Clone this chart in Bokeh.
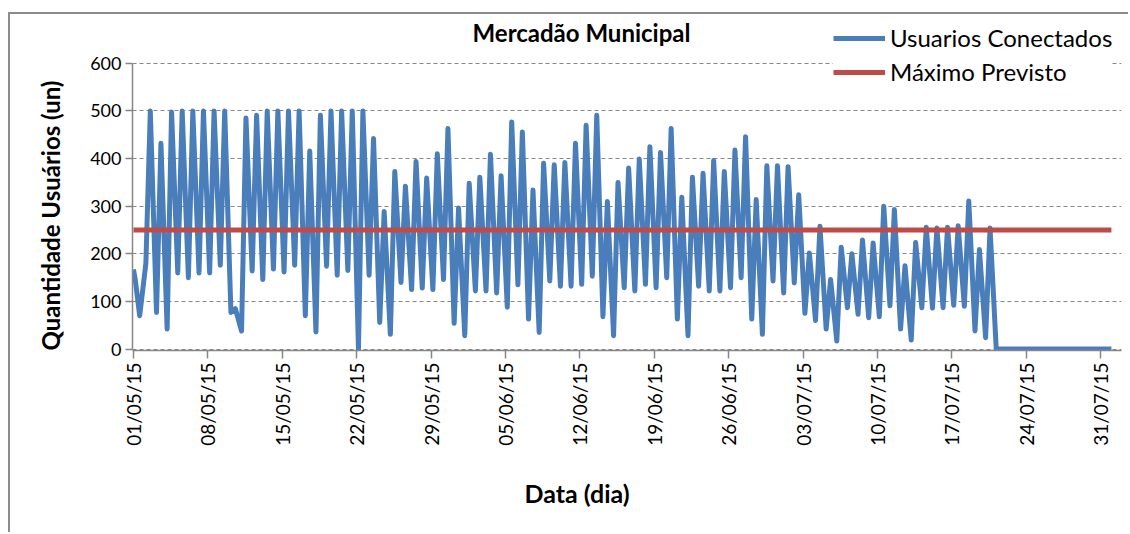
import pandas as pd
from math import pi
from bokeh.plotting import figure
from bokeh.models import (Range1d, FixedTicker, DatetimeTickFormatter, Label,
                          Legend, LegendItem, ColumnDataSource, Title)
from bokeh.embed import file_html
from bokeh.resources import INLINE

# ---------------- data ----------------
titulo = "Mercadão Municipal"
serie_usuarios = "Usuarios Conectados"
serie_maximo = "Máximo Previsto"
eixo_y = "Quantidade Usuários (un)"
eixo_x = "Data (dia)"

data_inicio = "2015-05-01"
data_fim = "2015-08-01"
hora_leitura_a = 4    # early-morning reading (h)
hora_leitura_b = 14   # afternoon reading (h)

valor_inicial = 167
valor_final = 0

# one value per day, 01/05/15 ... 31/07/15
leitura_a = [146, 180, 77, 42, 160, 150, 160, 160, 176, 77,
             38, 164, 146, 168, 162, 176, 70, 36, 174, 155,
             165, 0, 155, 56, 31, 140, 125, 128, 125, 146,
             54, 28, 122, 122, 118, 88, 135, 63, 35, 143,
             132, 132, 136, 153, 68, 28, 129, 122, 136, 129,
             150, 63, 28, 132, 122, 122, 129, 150, 63, 31,
             143, 118, 139, 75, 60, 42, 17, 87, 73, 66,
             68, 91, 42, 19, 87, 86, 87, 92, 90, 38,
             24, 0, 0, 0, 0, 0, 0, 0, 0, 0,
             0, 0]
leitura_b = [70, 500, 432, 498, 500, 500, 500, 500, 500, 85,
             485, 491, 500, 500, 500, 500, 416, 491, 500, 500,
             500, 500, 442, 289, 373, 342, 394, 359, 410, 463,
             296, 348, 361, 409, 364, 477, 456, 334, 390, 387,
             392, 432, 470, 491, 310, 350, 380, 399, 425, 413,
             463, 319, 361, 369, 396, 373, 418, 446, 314, 385,
             385, 383, 324, 202, 258, 146, 214, 200, 229, 223,
             300, 293, 175, 224, 256, 254, 256, 259, 311, 209,
             254, 0, 0, 0, 0, 0, 0, 0, 0, 0,
             0, 0]
maximo_previsto = 250

y_ticks = [0, 100, 200, 300, 400, 500, 600]
x_tick_labels = ["01/05/15", "08/05/15", "15/05/15", "22/05/15", "29/05/15",
                 "05/06/15", "12/06/15", "19/06/15", "26/06/15", "03/07/15",
                 "10/07/15", "17/07/15", "24/07/15", "31/07/15"]

# ---------------- build series ----------------
dias = pd.date_range(data_inicio, periods=len(leitura_a), freq="D")
t_a = dias + pd.Timedelta(hours=hora_leitura_a)
t_b = dias + pd.Timedelta(hours=hora_leitura_b)
tempos = [pd.Timestamp(data_inicio)]
valores = [valor_inicial]
for ta, va, tb, vb in zip(t_a, leitura_a, t_b, leitura_b):
    tempos += [ta, tb]
    valores += [va, vb]
tempos.append(pd.Timestamp(data_fim))
valores.append(valor_final)
src = ColumnDataSource(dict(t=tempos, v=valores))

tick_ms = [pd.to_datetime(s, format="%d/%m/%y").value / 1e6 for s in x_tick_labels]

# ---------------- style ----------------
FONT = "Lato"
AZUL = "#4A7EBB"
VERMELHO = "#BE4B48"
CINZA = "#868686"

t0 = pd.Timestamp(data_inicio)
p = figure(width=1120, height=520, x_axis_type="datetime",
           output_backend="svg", toolbar_location=None,
           x_range=Range1d(t0 - pd.Timedelta(hours=2.2), t0 + pd.Timedelta(days=92.95)),
           y_range=Range1d(-3, 690),
           min_border_left=122, min_border_right=9,
           min_border_top=6, min_border_bottom=183)
p.outline_line_color = None
p.background_fill_color = "white"
p.border_fill_color = "white"
p.styles = {"margin-left": "8px", "margin-top": "12px",
            "border-left": "2px solid #8c8c8c", "border-top": "2px solid #8c8c8c"}

# grid
p.xgrid.grid_line_color = None
p.ygrid.ticker = FixedTicker(ticks=y_ticks)
p.ygrid.grid_line_color = CINZA
p.ygrid.grid_line_dash = "4 3"
p.ygrid.grid_line_width = 1

# axes
p.yaxis.ticker = FixedTicker(ticks=y_ticks)
p.yaxis.bounds = (y_ticks[0], y_ticks[-1])
p.xaxis.ticker = FixedTicker(ticks=tick_ms)
fmt = "%d/%m/%y"
p.xaxis.formatter = DatetimeTickFormatter(days=fmt, months=fmt, years=fmt, hours=fmt,
                                          minutes=fmt, seconds=fmt, milliseconds=fmt,
                                          minsec=fmt, hourmin=fmt)
p.xaxis.major_label_orientation = pi / 2
for ax in (p.xaxis, p.yaxis):
    ax.axis_line_color = CINZA
    ax.axis_line_width = 1.5
    ax.major_tick_line_color = CINZA
    ax.major_tick_line_width = 1.5
    ax.minor_tick_line_color = None
    ax.major_tick_in = 0
    ax.major_label_text_font = FONT
    ax.major_label_text_color = "black"
p.yaxis.major_tick_out = 7
p.yaxis.major_label_standoff = 4
p.yaxis.major_label_text_font_size = "18px"
p.xaxis.major_tick_out = 8
p.xaxis.major_label_standoff = 4
p.xaxis.major_label_text_font_size = "19px"

# series
r1 = p.line(x="t", y="v", source=src, line_color=AZUL, line_width=5,
            line_join="round")
r2 = p.line(x=[tempos[0], tempos[-1]], y=[maximo_previsto, maximo_previsto],
            line_color=VERMELHO, line_width=5)

# legend
leg = Legend(items=[LegendItem(label=serie_usuarios, renderers=[r1]),
                    LegendItem(label=serie_maximo, renderers=[r2])],
             location=(701, 264), padding=0, margin=0, spacing=5,
             glyph_width=52, glyph_height=28, label_height=28, label_standoff=5,
             label_text_font=FONT, label_text_font_size="24px",
             label_text_color="black", border_line_color=None,
             background_fill_color="white", background_fill_alpha=1.0)
p.add_layout(leg)

# chart title (inside the frame area above the 600 line)
p.add_layout(Label(x=449, y=318, x_units="screen", y_units="screen", text=titulo,
                   text_font=FONT, text_font_style="bold", text_font_size="24px",
                   text_align="center", text_baseline="middle", text_color="black"))

# y axis title
p.add_layout(Title(text=eixo_y, align="left", standoff=45,
                   text_font=FONT, text_font_style="bold", text_font_size="24px",
                   text_color="black"), "left")

# x axis title
p.add_layout(Title(text=eixo_x, align="left", offset=392, standoff=54,
                   text_font=FONT, text_font_style="bold", text_font_size="25px",
                   text_color="black"), "below")

open("out.html", "w").write(file_html(p, INLINE))
